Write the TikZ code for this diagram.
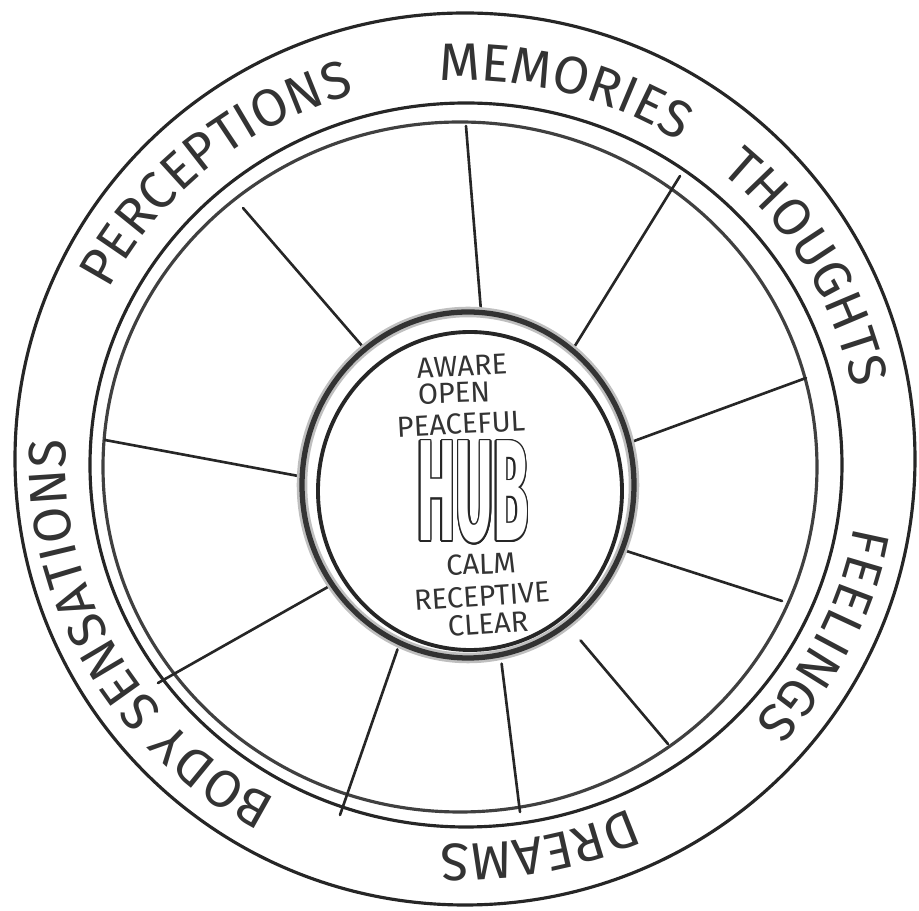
\documentclass[tikz,border=0pt]{standalone}
\usepackage{fontspec}
\usepackage{contour}
\usetikzlibrary{decorations.text,calc}

\newfontfamily\handfont{Fira Sans}
\newfontfamily\bigfont[FakeStretch=0.4]{Fira Sans}
\newcommand\ringfont{\handfont\fontsize{30}{30}\selectfont}
\newcommand\hubfont{\handfont\fontsize{16.5}{16.5}\selectfont}
\contourlength{0.9pt}
\contournumber{16}

\tikzset{
  pencil/.style={line width=1.8pt, black!85, line cap=round, line join=round},
  spoke/.style={line width=1.5pt, black!85, line cap=round},
  ringtext/.style={decorate, decoration={text along path, text align=center,
      text color=black!80, text={|\ringfont|#1}}},
  hubword/.style={font=\hubfont, text=black!80, inner sep=0pt},
}

\begin{document}
\begin{tikzpicture}[x=0.2mm, y=0.2mm, line cap=round, line join=round]
  \useasboundingbox (-460,-451) rectangle (459,460);

  % tyre and rim
  \draw[pencil] (5,1) ellipse [x radius=450, y radius=446];
  \draw[pencil] (6,-5) ellipse [x radius=376, y radius=362];
  \draw[pencil, black!75] (0,-7) ellipse [x radius=357, y radius=345];

  % spokes, hub end / rim end
  \foreach \xa/\ya/\xb/\yb in {-103/120/-217/252, 21/149/6/334, 126/132/220/284,
      185/23/346/82, 185/-97/322/-141, 132/-194/208/-284, 44/-223/60/-352,
      -70/-211/-120/-355, -141/-132/-302/-223, -167/-15/-355/20}
    \draw[spoke] ($(\xa,\ya)!-0.15!(\xb,\yb)$) -- (\xb,\yb);

  % hub
  \fill[white] (8,-25) ellipse [x radius=166, y radius=173];
  \draw[line width=6pt, black!25] (8,-25) ellipse [x radius=166, y radius=173];
  \draw[line width=3pt, black!80] (8,-25) ellipse [x radius=166, y radius=173];
  \draw[line width=2.2pt, black!85] (10,-31) ellipse [x radius=152, y radius=159];

  \node[hubword, rotate=3] (aware) at (2,94) {AWARE};
  \node[hubword, rotate=2] (open) at (-6,67) {OPEN};
  \node[hubword, rotate=3] (peaceful) at (1,36) {PEACEFUL};
  \node[inner sep=0pt] (hub) at (13,-33)
    {\bigfont\bfseries\fontsize{82}{82}\selectfont\color{white}\contour{black!85}{HUB}};
  \node[hubword, rotate=2] (calm) at (21,-104) {CALM};
  \node[hubword, rotate=4] (receptive) at (22,-136) {RECEPTIVE};
  \node[hubword, rotate=4] (clear) at (28,-164) {CLEAR};

  % words round the tyre, read clockwise
  \path[ringtext=MEMORIES] (3,-2) ++(115:397 and 382)
    arc[start angle=115, end angle=35, x radius=397, y radius=382];
  \path[ringtext=PERCEPTIONS] (3,-2) ++(180:397 and 382)
    arc[start angle=180, end angle=80, x radius=397, y radius=382];
  \path[ringtext=THOUGHTS] (3,-2) ++(70:397 and 382)
    arc[start angle=70, end angle=-10, x radius=397, y radius=382];
  \path[ringtext=FEELINGS] (3,-2) ++(14:397 and 382)
    arc[start angle=14, end angle=-66, x radius=397, y radius=382];
  \path[ringtext=DREAMS] (3,-2) ++(-39:397 and 382)
    arc[start angle=-39, end angle=-119, x radius=397, y radius=382];
  \path[ringtext=BODY SENSATIONS] (3,-2) ++(264:397 and 382)
    arc[start angle=264, end angle=154, x radius=397, y radius=382];
\end{tikzpicture}
\end{document}
